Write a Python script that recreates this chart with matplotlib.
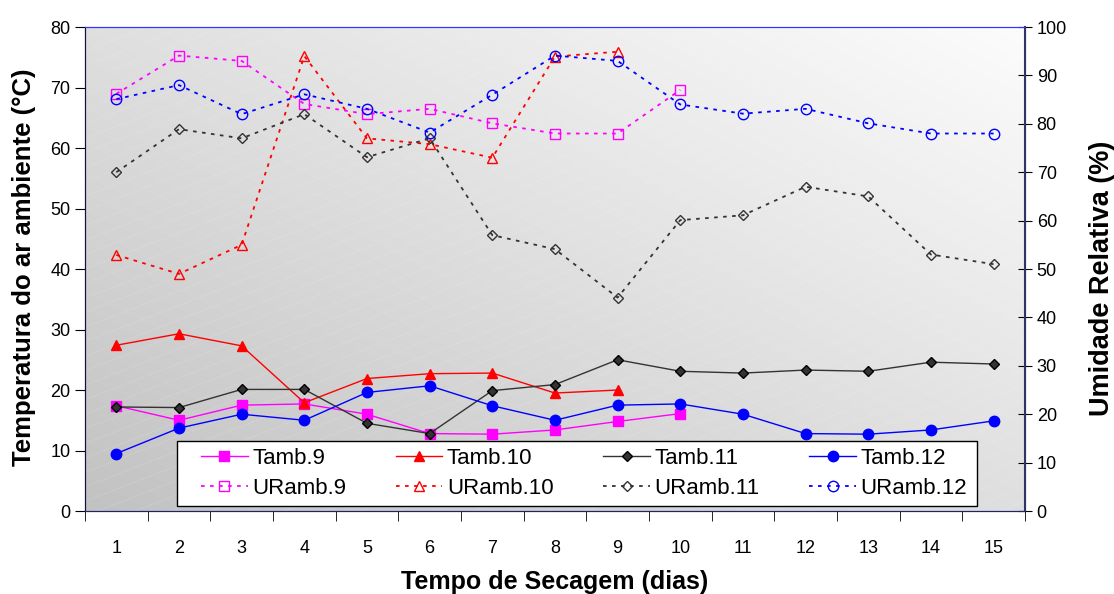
import matplotlib
matplotlib.use("Agg")
import matplotlib.pyplot as plt
from matplotlib.patches import Rectangle
import numpy as np

plt.rcParams['font.family'] = ['Liberation Sans', 'DejaVu Sans']

days = list(range(1, 16))

# temperatura (eixo esquerdo)
tamb9 = [17.4, 15.0, 17.5, 17.7, 16.0, 12.8, 12.7, 13.4, 14.8, 16.1]
tamb10 = [27.4, 29.3, 27.3, 17.9, 21.9, 22.7, 22.8, 19.5, 20.0]
tamb11 = [17.2, 17.1, 20.1, 20.1, 14.5, 12.8, 19.9, 20.9, 25.0, 23.1, 22.8, 23.3, 23.1, 24.6, 24.3]
tamb12 = [9.5, 13.7, 16.0, 15.0, 19.6, 20.7, 17.4, 15.0, 17.5, 17.7, 16.0, 12.8, 12.7, 13.4, 14.9]

# umidade relativa (eixo direito)
uramb9 = [86.2, 94.1, 93.0, 84.1, 82.0, 83.1, 80.1, 78.0, 78.0, 87.0]
uramb10 = [52.9, 49.0, 55.0, 94.0, 77.0, 75.8, 73.0, 93.9, 94.9]
uramb11 = [70.0, 78.9, 77.0, 82.0, 73.1, 77.0, 57.0, 54.1, 44.1, 60.1, 61.1, 67.0, 65.0, 53.0, 51.0]
uramb12 = [85.1, 88.0, 82.0, 86.1, 83.1, 78.2, 86.0, 94.1, 93.0, 84.0, 82.1, 83.1, 80.1, 78.0, 78.0]

fig = plt.figure(figsize=(11.14, 5.94), dpi=100)
ax = fig.add_axes([0.0763, 0.1397, 0.8437, 0.8148])
ax2 = ax.twinx()

# fundo em degradê
xx, yy = np.meshgrid(np.linspace(0, 1, 200), np.linspace(0, 1, 200))
t = (xx + (1 - yy)) / 2
gray = (194 + 58 * t) / 255
img = np.dstack([gray, gray, gray])
ax.imshow(img, extent=[0, 1, 0, 1], transform=ax.transAxes, aspect='auto', zorder=0, origin='upper')
for c in np.arange(-1.0, 1.0, 0.03):
    ax.plot([0, 1], [c, c + 0.75], transform=ax.transAxes, color='white', lw=0.5,
            ls=(0, (1, 2)), alpha=0.45, zorder=0.5)

h = []
h += ax.plot(days[:len(tamb9)], tamb9, color='#ff00ff', marker='s', ms=7.5, lw=1, label='Tamb.9')
h += ax.plot(days[:len(tamb10)], tamb10, color='#ff0000', marker='^', ms=7.5, lw=1, label='Tamb.10')
h += ax.plot(days, tamb11, color='#333333', marker='D', ms=5.5, mec='black', lw=1, label='Tamb.11')
h += ax.plot(days, tamb12, color='#0000ff', marker='o', ms=7.5, lw=1, label='Tamb.12')

dot = (0, (2, 3))
u = []
u += ax2.plot(days[:len(uramb9)], uramb9, color='#ff00ff', marker='s', ms=7.5, mfc='none', lw=1.3, ls=dot, label='URamb.9')
u += ax2.plot(days[:len(uramb10)], uramb10, color='#ff0000', marker='^', ms=7.5, mfc='none', lw=1.3, ls=dot, label='URamb.10')
u += ax2.plot(days, uramb11, color='#333333', marker='D', ms=5.5, mfc='none', lw=1.3, ls=dot, label='URamb.11')
u += ax2.plot(days, uramb12, color='#0000ff', marker='o', ms=7.5, mfc='none', lw=1.3, ls=dot, label='URamb.12')

ax.set_xlim(0.5, 15.5)
ax.set_ylim(0, 80)
ax2.set_ylim(0, 100)
ax.set_yticks(np.arange(0, 81, 10))
ax2.set_yticks(np.arange(0, 101, 10))
ax.set_xticks(days)
ax.set_xticks(np.arange(0.5, 16, 1), minor=True)
ax.tick_params(axis='x', which='major', length=0, labelsize=13, pad=21)
ax.tick_params(axis='x', which='minor', length=7, direction='out')
ax.tick_params(axis='y', labelsize=13, length=7, direction='out')
ax2.tick_params(axis='y', labelsize=13, length=10, direction='inout')

ax.set_xlabel('Tempo de Secagem (dias)', fontsize=18, fontweight='bold', labelpad=9)
ax.set_ylabel('Temperatura do ar ambiente (°C)', fontsize=18.5, fontweight='bold')
ax2.set_ylabel('Umidade Relativa (%)', fontsize=19.5, fontweight='bold')
ax.yaxis.set_label_coords(-0.052, 0.504)
ax2.yaxis.set_label_coords(1.068, 0.481)

for a in (ax, ax2):
    a.spines['top'].set_color('#3333ff')
    a.spines['bottom'].set_color('#222266')
    a.spines['right'].set_color('#333366')
    a.spines['left'].set_color('#111144')
ax2.spines['right'].set_linewidth(1.5)

# caixa da legenda
ax2.add_patch(Rectangle((0.0979, 0.0103), 0.8511, 0.1343, transform=ax2.transAxes,
                        facecolor='white', edgecolor='black', lw=1, zorder=4.5))

handles = []
for a, b in zip(h, u):
    handles += [a, b]
leg = ax2.legend(handles=handles, ncol=4, loc='center', bbox_to_anchor=(0.1234, 0.0103, 0.815, 0.1343),
                 mode='expand', fontsize=16, frameon=False, handlelength=2.1, borderaxespad=0,
                 handletextpad=0.2, labelspacing=0.4, borderpad=0)

fig.savefig('out.png', dpi=100)
